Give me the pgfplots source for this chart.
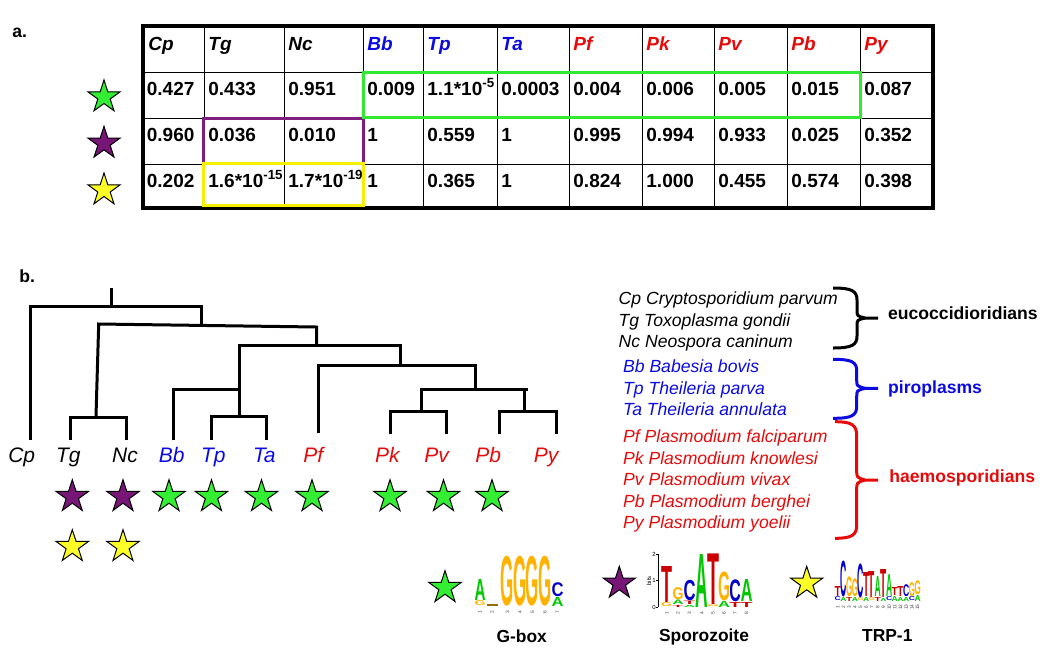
\documentclass[border=0pt]{standalone}
\usepackage{fontspec}
\setmainfont{Liberation Sans}
\usepackage{graphicx}
\usepackage{pgfplots}
\pgfplotsset{compat=1.18}

\definecolor{mblue}{RGB}{10,10,225}
\definecolor{mred}{RGB}{230,10,10}
\definecolor{sgreen}{RGB}{51,238,51}
\definecolor{spurple}{RGB}{120,22,120}
\definecolor{syellow}{RGB}{255,255,40}
\definecolor{bgreen}{RGB}{51,232,51}
\definecolor{bpurple}{RGB}{128,30,128}
\definecolor{byellow}{RGB}{245,240,0}
\definecolor{lA}{RGB}{0,200,0}
\definecolor{lC}{RGB}{0,0,205}
\definecolor{lG}{RGB}{255,178,0}
\definecolor{lT}{RGB}{205,0,0}

\tikzset{
  tl/.style={anchor=base,inner sep=0pt,font=\fontsize{10.5}{12}\selectfont\itshape},
  lg/.style={anchor=base west,inner sep=0pt,font=\fontsize{8.8}{10}\selectfont\itshape},
  gl/.style={anchor=base west,inner sep=0pt,font=\fontsize{8.8}{10}\selectfont\bfseries},
  ml/.style={anchor=base,inner sep=0pt,font=\fontsize{8.7}{10}\selectfont\bfseries}
}
\pgfplotsset{tree/.style={black, line width=1.5pt, no marks, sharp plot, line join=miter}}

\newdimen\pxu \pxu=0.5pt
\newcommand{\logoL}[6]{\node[anchor=south,inner sep=0pt,outer sep=0pt,text=#5] at (axis cs:#1,#2) {\resizebox*{#3\pxu}{#4\pxu}{\bfseries #6}};}
\newcommand{\pn}[3]{\node[rotate=90,inner sep=0pt,text=black!75,font=\fontsize{2.4}{3}\selectfont] at (axis cs:#1,#2) {#3};}
\newcommand{\tabf}{\fontsize{9.5}{11}\selectfont\bfseries}
\newcommand{\tc}[3]{\node[anchor=base west,inner sep=0pt,font=\tabf] at (axis cs:#1,#2) {#3};}
\newcommand{\thd}[4]{\node[anchor=base west,inner sep=0pt,font=\tabf\itshape,text=#4] at (axis cs:#1,#2) {#3};}
\newcommand{\vl}[1]{\draw[line width=0.5pt] (axis cs:#1,26) -- (axis cs:#1,208);}

\pgfdeclareplotmark{fstar}{%
  \pgfpathmoveto{\pgfpointpolar{90}{\pgfplotmarksize}}%
  \pgfpathlineto{\pgfpointpolar{126}{0.382\pgfplotmarksize}}%
  \pgfpathlineto{\pgfpointpolar{162}{\pgfplotmarksize}}%
  \pgfpathlineto{\pgfpointpolar{198}{0.382\pgfplotmarksize}}%
  \pgfpathlineto{\pgfpointpolar{234}{\pgfplotmarksize}}%
  \pgfpathlineto{\pgfpointpolar{270}{0.382\pgfplotmarksize}}%
  \pgfpathlineto{\pgfpointpolar{306}{\pgfplotmarksize}}%
  \pgfpathlineto{\pgfpointpolar{342}{0.382\pgfplotmarksize}}%
  \pgfpathlineto{\pgfpointpolar{18}{\pgfplotmarksize}}%
  \pgfpathlineto{\pgfpointpolar{54}{0.382\pgfplotmarksize}}%
  \pgfpathclose
  \pgfusepathqfillstroke}

\begin{document}
\begin{tikzpicture}
\begin{axis}[x=0.5pt, y=0.5pt, y dir=reverse, xmin=0, xmax=1044, ymin=0, ymax=671,
  hide axis, clip=false, scale only axis]

% ---------- panel labels ----------
\node[anchor=base west,inner sep=0pt,font=\fontsize{8.8}{10}\selectfont\bfseries] at (axis cs:12,37) {a.};
\node[anchor=base west,inner sep=0pt,font=\fontsize{8.8}{10}\selectfont\bfseries] at (axis cs:19,282) {b.};

% ---------- table grid ----------
\vl{204} \vl{284} \vl{363} \vl{423} \vl{497} \vl{569} \vl{642} \vl{714} \vl{787} \vl{860}
\draw[line width=0.5pt] (axis cs:143,72) -- (axis cs:933,72);
\draw[line width=0.5pt] (axis cs:143,118) -- (axis cs:933,118);
\draw[line width=0.5pt] (axis cs:143,164) -- (axis cs:933,164);
\draw[line width=1.8pt] (axis cs:143,26) rectangle (axis cs:933,208);
\draw[bpurple, line width=1.5pt] (axis cs:203.5,118) rectangle (axis cs:363,163.5);
\draw[byellow, line width=1.5pt] (axis cs:203.5,163.5) rectangle (axis cs:363,205.5);
\draw[bgreen, line width=1.5pt] (axis cs:363.5,72) rectangle (axis cs:860,117);

% header
\thd{148}{50.5}{Cp}{black} \thd{208}{50.5}{Tg}{black} \thd{288}{50.5}{Nc}{black}
\thd{367}{50.5}{Bb}{mblue} \thd{427}{50.5}{Tp}{mblue} \thd{501}{50.5}{Ta}{mblue}
\thd{573}{50.5}{Pf}{mred} \thd{646}{50.5}{Pk}{mred} \thd{718}{50.5}{Pv}{mred}
\thd{791}{50.5}{Pb}{mred} \thd{864}{50.5}{Py}{mred}
% row 1
\tc{146.5}{95}{0.427} \tc{208}{95}{0.433} \tc{288}{95}{0.951} \tc{367}{95}{0.009}
\tc{427}{95}{1.1*10\textsuperscript{-5}} \tc{501}{95}{0.0003} \tc{573}{95}{0.004}
\tc{646}{95}{0.006} \tc{718}{95}{0.005} \tc{791}{95}{0.015} \tc{864}{95}{0.087}
% row 2
\tc{146.5}{141}{0.960} \tc{208}{141}{0.036} \tc{288}{141}{0.010} \tc{367}{141}{1}
\tc{427}{141}{0.559} \tc{501}{141}{1} \tc{573}{141}{0.995}
\tc{646}{141}{0.994} \tc{718}{141}{0.933} \tc{791}{141}{0.025} \tc{864}{141}{0.352}
% row 3
\tc{146.5}{187}{0.202} \tc{208}{187}{1.6*10\textsuperscript{-15}} \tc{288}{187}{1.7*10\textsuperscript{-19}} \tc{367}{187}{1}
\tc{427}{187}{0.365} \tc{501}{187}{1} \tc{573}{187}{0.824}
\tc{646}{187}{1.000} \tc{718}{187}{0.455} \tc{791}{187}{0.574} \tc{864}{187}{0.398}

% ---------- stars (table) ----------
\addplot[only marks, mark=fstar, mark size=8.5pt, mark options={fill=sgreen, draw=black, line width=0.5pt}] coordinates {(104,97)};
\addplot[only marks, mark=fstar, mark size=8.5pt, mark options={fill=spurple, draw=black, line width=0.5pt}] coordinates {(104,143.3)};
\addplot[only marks, mark=fstar, mark size=8.5pt, mark options={fill=syellow, draw=black, line width=0.5pt}] coordinates {(104,190)};

% ---------- tree ----------
\addplot[tree] coordinates {(111.7,288) (111.7,306)};
\addplot[tree] coordinates {(30,440) (30,306) (201.7,306) (201.7,325)};
\addplot[tree] coordinates {(96,416) (98.7,324) (316.7,327) (316.7,345.7)};
\addplot[tree] coordinates {(70,440) (70,417.7) (126,417.7) (126,440)};
\addplot[tree] coordinates {(239.3,416.7) (239.3,345.7) (400,345.7) (400,365)};
\addplot[tree] coordinates {(173.3,440) (173.3,389) (239.3,389)};
\addplot[tree] coordinates {(211.3,440) (211.3,416.7) (266.7,416.7) (266.7,440)};
\addplot[tree] coordinates {(318.3,433) (318.3,365) (475,365) (475,389.3)};
\addplot[tree] coordinates {(421.7,411.7) (421.7,389.3) (528.3,389.3)};
\addplot[tree] coordinates {(524,389.3) (524,411.7)};
\addplot[tree] coordinates {(390.7,434) (390.7,411.7) (446.7,411.7) (446.7,434)};
\addplot[tree] coordinates {(499.3,434) (499.3,411.7) (556.7,411.7) (556.7,434)};

% tree labels
\node[tl] at (axis cs:21.7,462.5) {Cp};
\node[tl] at (axis cs:68.3,462.5) {Tg};
\node[tl] at (axis cs:125,462.5) {Nc};
\node[tl,text=mblue] at (axis cs:171.7,462.5) {Bb};
\node[tl,text=mblue] at (axis cs:213.3,462.5) {Tp};
\node[tl,text=mblue] at (axis cs:264.3,462.5) {Ta};
\node[tl,text=mred] at (axis cs:313.3,462.5) {Pf};
\node[tl,text=mred] at (axis cs:387.3,462.5) {Pk};
\node[tl,text=mred] at (axis cs:436.7,462.5) {Pv};
\node[tl,text=mred] at (axis cs:488.3,462.5) {Pb};
\node[tl,text=mred] at (axis cs:546,462.5) {Py};

% tree stars
\addplot[only marks, mark=fstar, mark size=8.5pt, mark options={fill=spurple, draw=black, line width=0.5pt}] coordinates {(72.3,496.7) (123,496.7)};
\addplot[only marks, mark=fstar, mark size=8.5pt, mark options={fill=sgreen, draw=black, line width=0.5pt}] coordinates {(169,496.7) (211.5,496.7) (261.5,496.7) (312,496.7) (390,496.7) (443.5,496.7) (492,496.7)};
\addplot[only marks, mark=fstar, mark size=8.5pt, mark options={fill=syellow, draw=black, line width=0.5pt}] coordinates {(72.3,546.7) (123,546.7)};

% ---------- species legend ----------
\node[lg] at (axis cs:618.3,304) {Cp Cryptosporidium parvum};
\node[lg] at (axis cs:618.3,326) {Tg Toxoplasma gondii};
\node[lg] at (axis cs:618.3,347.3) {Nc Neospora caninum};
\node[lg,text=mblue] at (axis cs:622.7,372.7) {Bb Babesia bovis};
\node[lg,text=mblue] at (axis cs:622.7,394) {Tp Theileria parva};
\node[lg,text=mblue] at (axis cs:622.7,415) {Ta Theileria annulata};
\node[lg,text=mred] at (axis cs:622.7,442.7) {Pf Plasmodium falciparum};
\node[lg,text=mred] at (axis cs:622.7,464.3) {Pk Plasmodium knowlesi};
\node[lg,text=mred] at (axis cs:622.7,485.3) {Pv Plasmodium vivax};
\node[lg,text=mred] at (axis cs:622.7,507.3) {Pb Plasmodium berghei};
\node[lg,text=mred] at (axis cs:622.7,528.3) {Py Plasmodium yoelii};

% braces
\draw[black, line width=1.5pt] (axis cs:833,288) .. controls (axis cs:852,288) and (axis cs:857,291) .. (axis cs:857,300) -- (axis cs:857,310) .. controls (axis cs:857,316) .. (axis cs:865,318) -- (axis cs:878,318);
\draw[black, line width=1.5pt] (axis cs:865,318) .. controls (axis cs:857,320) .. (axis cs:857,326) -- (axis cs:857,336) .. controls (axis cs:857,345) and (axis cs:852,348) .. (axis cs:833,348);
\draw[mblue, line width=1.5pt] (axis cs:833,359.3) .. controls (axis cs:852,359.3) and (axis cs:856.7,362) .. (axis cs:856.7,371) -- (axis cs:856.7,380) .. controls (axis cs:856.7,386) .. (axis cs:865,388.3) -- (axis cs:878,388.3);
\draw[mblue, line width=1.5pt] (axis cs:865,388.3) .. controls (axis cs:856.7,390.5) .. (axis cs:856.7,397) -- (axis cs:856.7,406) .. controls (axis cs:856.7,415.5) and (axis cs:852,418.3) .. (axis cs:833,418.3);
\draw[mred, line width=1.5pt] (axis cs:835,421.7) .. controls (axis cs:852,421.7) and (axis cs:856.7,425) .. (axis cs:856.7,436) -- (axis cs:856.7,470) .. controls (axis cs:856.7,477.5) .. (axis cs:865,480) -- (axis cs:878,480);
\draw[mred, line width=1.5pt] (axis cs:865,480) .. controls (axis cs:856.7,482.5) .. (axis cs:856.7,490) -- (axis cs:856.7,525) .. controls (axis cs:856.7,535) and (axis cs:852,538.3) .. (axis cs:835,538.3);

\node[gl] at (axis cs:887.7,319.3) {eucoccidioridians};
\node[gl,text=mblue] at (axis cs:887.7,393.3) {piroplasms};
\node[gl,text=mred] at (axis cs:889,482) {haemosporidians};

% ---------- motif logos ----------
\addplot[only marks, mark=fstar, mark size=8.5pt, mark options={fill=sgreen, draw=black, line width=0.5pt}] coordinates {(445,587.7)};
\addplot[only marks, mark=fstar, mark size=8.5pt, mark options={fill=spurple, draw=black, line width=0.5pt}] coordinates {(619.3,583.3)};
\addplot[only marks, mark=fstar, mark size=8.5pt, mark options={fill=syellow, draw=black, line width=0.5pt}] coordinates {(806.7,583.3)};

% G-box logo
\logoL{480}{606}{11}{5}{lG}{G}
\logoL{480}{600.4}{11}{21}{lA}{A}
\draw[lG!60!black, line width=0.6pt] (axis cs:487,605) -- (axis cs:498,605);
\logoL{507.5}{606}{13.2}{50}{lG}{G}
\logoL{520}{606}{13.2}{50}{lG}{G}
\logoL{532.5}{606}{13.2}{50}{lG}{G}
\logoL{545}{606}{13.2}{50}{lG}{G}
\logoL{557.5}{606}{12}{9}{lA}{A}
\logoL{557.5}{596.4}{12}{14}{lC}{C}
\pn{480}{612.5}{1} \pn{492}{612.5}{2} \pn{507.5}{612.5}{3} \pn{520}{612.5}{4} \pn{532.5}{612.5}{5} \pn{545}{612.5}{6} \pn{557.5}{612.5}{7}

% Sporozoite logo
\draw[black, line width=0.3pt] (axis cs:658.3,554) -- (axis cs:658.3,607.3);
\draw[black, line width=0.3pt] (axis cs:656.3,554) -- (axis cs:658.3,554);
\draw[black, line width=0.3pt] (axis cs:656.3,580.7) -- (axis cs:658.3,580.7);
\draw[black, line width=0.3pt] (axis cs:656.3,607.3) -- (axis cs:658.3,607.3);
\node[inner sep=0pt,font=\fontsize{3}{3}\selectfont] at (axis cs:654,554) {2};
\node[inner sep=0pt,font=\fontsize{3}{3}\selectfont] at (axis cs:654,580.7) {1};
\node[inner sep=0pt,font=\fontsize{3}{3}\selectfont] at (axis cs:654,607.3) {0};
\node[rotate=90,inner sep=0pt,font=\fontsize{3}{3}\selectfont] at (axis cs:649,580.7) {bits};
\logoL{666.7}{607}{11}{4}{lG}{G}
\logoL{666.7}{602.6}{11}{36}{lT}{T}
\logoL{678}{607}{11}{2}{lT}{T}
\logoL{678}{604.6}{11}{4.6}{lA}{A}
\logoL{678}{599.6}{11}{12}{lG}{G}
\logoL{689.5}{607}{12}{2}{lA}{A}
\logoL{689.5}{604.6}{12}{3.4}{lT}{T}
\logoL{689.5}{600.8}{12}{20.5}{lC}{C}
\logoL{702}{607}{12.5}{53}{lA}{A}
\logoL{713}{607}{12}{2}{lG}{G}
\logoL{713}{604.6}{12}{50.6}{lT}{T}
\logoL{724}{607}{12}{6}{lA}{A}
\logoL{724}{600.6}{12}{29}{lG}{G}
\logoL{735}{607}{11.5}{5}{lT}{T}
\logoL{735}{601.6}{11.5}{22}{lC}{C}
\logoL{746.5}{607}{12}{5}{lT}{T}
\logoL{746.5}{601.6}{12}{22}{lA}{A}
\pn{666.7}{613}{1} \pn{678}{613}{2} \pn{689.5}{613}{3} \pn{702}{613}{4} \pn{713}{613}{5} \pn{724}{613}{6} \pn{735}{613}{7} \pn{746.5}{613}{8}

% TRP-1 logo
\logoL{837.8}{601}{6.2}{4}{lC}{C}
\logoL{837.8}{596.6}{6.2}{10}{lT}{T}
\logoL{843.5}{601}{6.2}{4}{lA}{A}
\logoL{843.5}{596.6}{6.2}{36}{lC}{C}
\logoL{849.2}{601}{6.2}{4}{lT}{T}
\logoL{849.2}{596.6}{6.2}{20}{lG}{G}
\logoL{854.9}{601}{6.2}{4}{lA}{A}
\logoL{854.9}{596.6}{6.2}{18}{lG}{G}
\logoL{860.6}{601}{6.2}{3}{lG}{G}
\logoL{860.6}{597.6}{6.2}{34}{lC}{C}
\logoL{866.3}{601}{6.2}{4}{lA}{A}
\logoL{866.3}{596.6}{6.2}{24}{lT}{T}
\logoL{872}{601}{6.2}{3}{lG}{G}
\logoL{872}{597.6}{6.2}{26}{lT}{T}
\logoL{877.7}{601}{6.2}{4}{lT}{T}
\logoL{877.7}{596.6}{6.2}{20}{lA}{A}
\logoL{883.4}{601}{6.2}{3}{lA}{A}
\logoL{883.4}{597.6}{6.2}{28}{lT}{T}
\logoL{889.1}{601}{6.2}{4}{lC}{C}
\logoL{889.1}{596.6}{6.2}{22}{lA}{A}
\logoL{894.8}{601}{6.2}{5}{lA}{A}
\logoL{894.8}{595.6}{6.2}{8}{lT}{T}
\logoL{900.5}{601}{6.2}{4}{lA}{A}
\logoL{900.5}{596.6}{6.2}{10}{lT}{T}
\logoL{906.2}{601}{6.2}{4}{lA}{A}
\logoL{906.2}{596.6}{6.2}{12}{lC}{C}
\logoL{911.9}{601}{6.2}{4}{lC}{C}
\logoL{911.9}{596.6}{6.2}{14}{lG}{G}
\logoL{917.6}{601}{6.2}{6}{lA}{A}
\logoL{917.6}{594.6}{6.2}{14}{lG}{G}
\pn{837.8}{607}{1} \pn{843.5}{607}{2} \pn{849.2}{607}{3} \pn{854.9}{607}{4} \pn{860.6}{607}{5}
\pn{866.3}{607}{6} \pn{872}{607}{7} \pn{877.7}{607}{8} \pn{883.4}{607}{9} \pn{889.1}{607}{10}
\pn{894.8}{607}{11} \pn{900.5}{607}{12} \pn{906.2}{607}{13} \pn{911.9}{607}{14} \pn{917.6}{607}{15}

\node[ml] at (axis cs:521.7,642) {G-box};
\node[ml] at (axis cs:704,641) {Sporozoite};
\node[ml] at (axis cs:887.3,641) {TRP-1};

\end{axis}
\pgfresetboundingbox
\useasboundingbox (current axis.south west) rectangle (current axis.north east);
\end{tikzpicture}
\end{document}
